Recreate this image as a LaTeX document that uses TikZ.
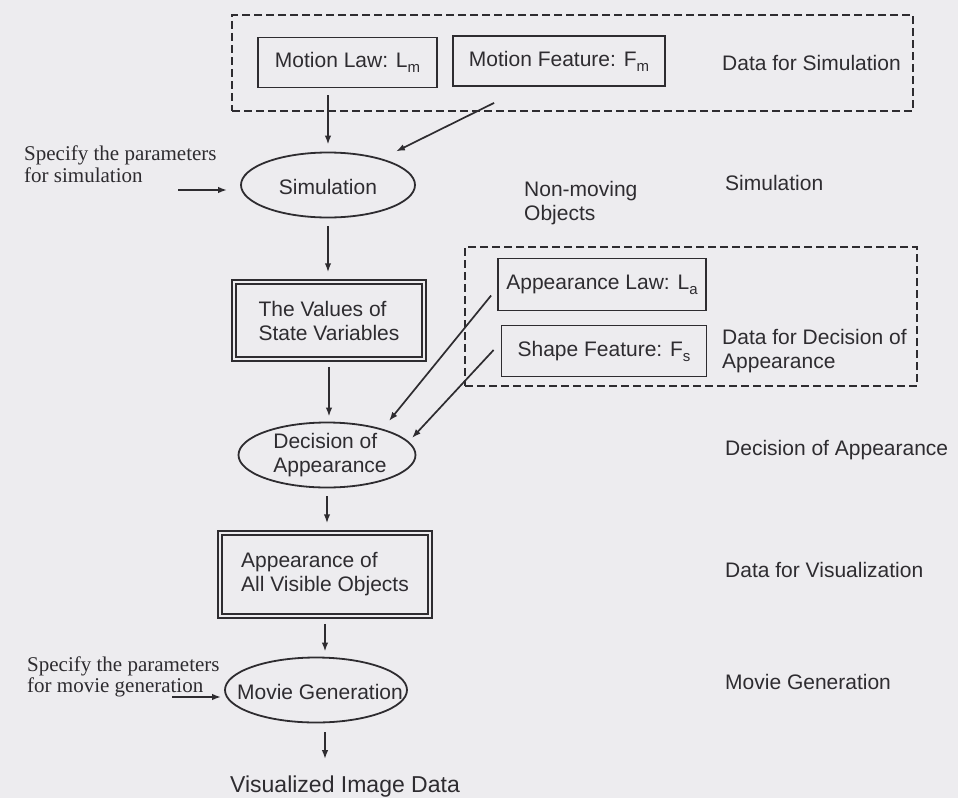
\documentclass[tikz,border=0pt]{standalone}
\usepackage{fontspec}
\setmainfont{Liberation Serif}
\setsansfont{Liberation Sans}
\usetikzlibrary{arrows.meta,shapes.geometric}

\definecolor{paper}{HTML}{EDECEF}
\definecolor{ink}{HTML}{2E2C30}

\newcommand\lblfont{\sffamily\fontsize{21}{24}\selectfont}
\newcommand\notefont{\rmfamily\fontsize{21}{21.5}\selectfont}
\newcommand\lowidx[1]{\raisebox{-5pt}{\fontsize{15}{15}\selectfont #1}}

\begin{document}
\begin{tikzpicture}[x=1pt,y=-1pt,
  every node/.style={text=ink, font=\lblfont, inner sep=0pt},
  box/.style={draw=ink, line width=1.8pt, rectangle},
  dbox/.style={draw=ink, line width=1.5pt, double=paper, double distance=2.4pt, rectangle},
  oval/.style={draw=ink, line width=1.8pt, ellipse},
  dashgroup/.style={draw=ink, line width=1.6pt, dash pattern=on 8pt off 4pt, rectangle},
  lbl/.style={anchor=west, align=left},
  note/.style={anchor=west, align=left, font=\notefont},
  arr/.style={draw=ink, line width=1.7pt, -{Latex[length=9pt,width=6.5pt]}},
]
\fill[paper] (0,0) rectangle (958,798);
\useasboundingbox (0,0) rectangle (958,798);

% data for simulation
\node[dashgroup, minimum width=681pt, minimum height=96pt] (simdata) at (572.5,63) {};
\node[box, minimum width=179pt, minimum height=50pt] (law) at (347.5,62.5) {Motion Law: L\lowidx{m}};
\node[box, minimum width=212pt, minimum height=50pt] (feat) at (559,61) {Motion Feature: F\lowidx{m}};
\node[lbl] (simdatalbl) at (722,63) {Data for Simulation};

% simulation step
\node[oval, minimum width=174pt, minimum height=65pt, label={[yshift=-2pt]center:Simulation}] (sim) at (328,185) {};
\node[lbl] (simlbl) at (725,183) {Simulation};
\node[lbl] (nonmov) at (524,203.5) {Non-moving\\Objects};
\node[note] (simnote) at (24,164) {Specify the parameters\\for simulation};

% state values
\node[dbox, minimum width=190pt, minimum height=77pt, align=left] (val) at (329,320.5) {The Values of\\State Variables};

% data for the decision of appearance
\node[dashgroup, minimum width=452pt, minimum height=139pt] (decdata) at (691,316.5) {};
\node[box, minimum width=208pt, minimum height=52pt] (alaw) at (602,284.5) {Appearance Law: L\lowidx{a}};
\node[box, minimum width=205pt, minimum height=51pt] (shape) at (604,351) {Shape Feature: F\lowidx{s}};
\node[lbl] (decdatalbl) at (722,351) {Data for Decision of\\Appearance};

% decision of appearance
\node[oval, minimum width=177pt, minimum height=65pt, label={[align=left, xshift=3pt]center:{Decision of\\Appearance}}] (dec) at (327,455) {};
\node[lbl] (declbl) at (725,450) {Decision of Appearance};

% visible objects
\node[dbox, minimum width=210pt, minimum height=83pt, align=left] (app) at (325,574.5) {Appearance of\\All Visible Objects};
\node[lbl] (vislbl) at (725,570) {Data for Visualization};

% movie generation
\node[oval, minimum width=182pt, minimum height=65pt, label={[xshift=4pt, yshift=-2pt]center:Movie Generation}] (mov) at (316,690) {};
\node[lbl] (movlbl) at (725,682) {Movie Generation};
\node[note] (movnote) at (27,677) {Specify the parameters\\for movie generation};
\node[anchor=base, font=\sffamily\fontsize{23}{23}\selectfont] (out) at (345,792) {Visualized Image Data};

% connectors
\draw[arr, shorten <=7pt, shorten >=7pt] (sim.north |- law.south) -- (sim.north);
\draw[arr, shorten >=16pt] ([shift={(42,16)}]feat.south west) -- (sim);
\coordinate (simin) at (178,190);
\draw[arr, shorten >=13pt] (simin) -- (simin -| sim.west);
\draw[arr, shorten <=8pt, shorten >=9pt] (sim.south) -- (sim.south |- val.north);
\draw[arr, shorten <=7pt, shorten >=5pt] (val.south) -- (val.south |- dec.north);
\draw[arr] ([shift={(-6,11)}]alaw.west) -- ([shift={(62,-34)}]dec.center);
\draw[arr] ([shift={(-7,-1)}]shape.west) -- ([shift={(85,-17)}]dec.center);
\draw[arr, shorten <=8pt, shorten >=9pt] (dec.south) -- (dec.south |- app.north);
\draw[arr, shorten <=7pt, shorten >=5pt] (app.south) -- (app.south |- mov.north);
\coordinate (movin) at (172,697);
\draw[arr, shorten >=3pt] (movin) -- (movin -| mov.west);
\draw[arr, shorten <=9pt, shorten >=16pt] (app.south |- mov.south) -- (app.south |- out.north);
\end{tikzpicture}
\end{document}
